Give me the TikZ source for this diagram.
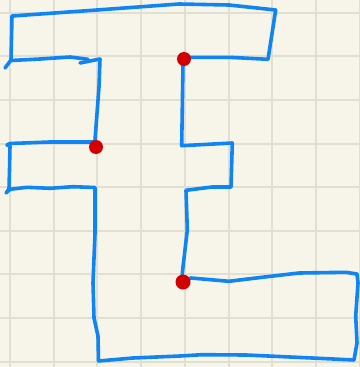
\documentclass[tikz,border=0pt]{standalone}
\definecolor{paper}{HTML}{F7F5EA}
\definecolor{gridc}{HTML}{E1DED2}
\definecolor{pen}{HTML}{0F84F5}
\definecolor{dotred}{HTML}{D20000}
\tikzset{
  gridline/.style={draw=gridc, line width=2pt},
  penline/.style={draw=pen, line width=3.6pt, line join=round, line cap=round},
  reddot/.style={circle, fill=dotred, inner sep=0pt, minimum size=14pt}
}
\begin{document}
\begin{tikzpicture}[x=1pt,y=-1pt]
\useasboundingbox (0,0) rectangle (359,367);
\fill[paper] (0,0) rectangle (359,367);
% grid
\foreach \i in {0,...,8} {
  \draw[gridline] ({10+43.7*\i},0) -- ({10+43.7*\i},367);
  \draw[gridline] (0,{12.7+43.6*\i}) -- (359,{12.7+43.6*\i});
}
% corner coordinates
\coordinate (p1) at (184,59);
\coordinate (p2) at (96,147);
\coordinate (p3) at (183,282);
% main stroke
\draw[penline] (80,63) -- (100,59) -- (99,87) -- (95,140) -- (96,146)
  -- (93,142) -- (50,142) -- (10,143.5) -- (7,145)
  -- (10,146) -- (9.5,170) -- (9,189) -- (6,193)
  -- (10,189.3) -- (27,187.3) -- (50,188.3) -- (73,186.7) -- (95,187.5)
  -- (95,233) -- (93,283) -- (94,318) -- (98,336) -- (98.5,361)
  -- (133,358) -- (180,356) -- (202,354.7) -- (246,355) -- (312,358) -- (354,360)
  -- (357,343) -- (355.7,316) -- (358,283) -- (357,274)
  -- (346,272.3) -- (299,273) -- (262,277.3) -- (229,281.3) -- (191,278) -- (183,282)
  -- (182.3,273) -- (187.3,230) -- (186,190.3)
  -- (212,187) -- (231,187) -- (232.3,143)
  -- (181.7,145.7) -- (183,63) -- (189,57.3) -- (229,57.3) -- (268,59.3)
  -- (275.7,10) -- (229,5) -- (179,4) -- (97,10) -- (12,16)
  -- (11,60) -- (5,68);
% second stroke
\draw[penline] (11,60.5) -- (40,59) -- (70,57) -- (88,59.3);
% red dots
\node[reddot] (d1) at (p1) {};
\node[reddot] (d2) at (p2) {};
\node[reddot, minimum size=15pt] (d3) at (p3) {};
\end{tikzpicture}
\end{document}
